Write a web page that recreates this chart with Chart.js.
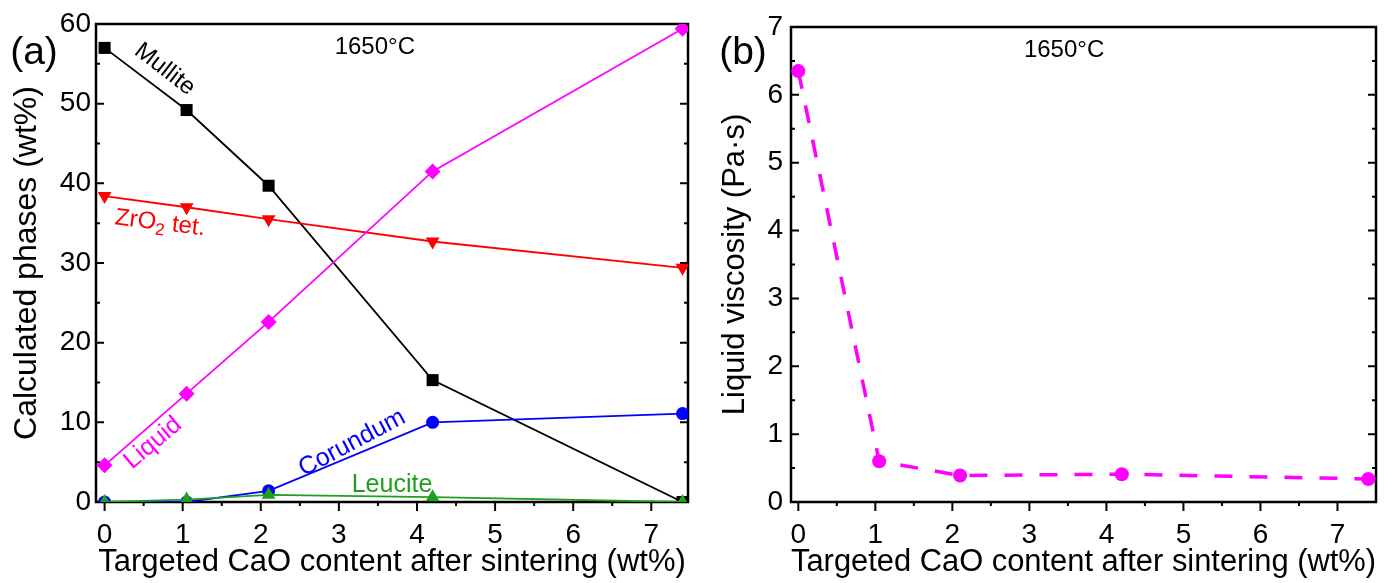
<!DOCTYPE html>
<html>
<head>
<meta charset="utf-8">
<script src="https://cdn.jsdelivr.net/npm/chart.js@4.4.0/dist/chart.umd.min.js"></script>
<style>
  html, body { margin: 0; padding: 0; background: #fff; }
  #wrap { position: relative; width: 1395px; height: 583px; }
  canvas { position: absolute; top: 0; }
  #phases { left: 0; }
  #viscosity { left: 700px; }
</style>
</head>
<body>
<div id="wrap">
  <canvas id="phases" width="700" height="583"></canvas>
  <canvas id="viscosity" width="695" height="583"></canvas>
</div>
<script>
// data
const caoContent = [0, 1.05, 2.1, 4.2, 7.4];
const mullite  = [57.0, 49.2, 39.7, 15.3, 0.0];
const zro2Tet  = [38.4, 37.0, 35.5, 32.7, 29.4];
const liquid   = [4.6, 13.6, 22.6, 41.5, 59.4];
const corundum = [0.0, 0.0, 1.4, 10.0, 11.1];
const leucite  = [0.0, 0.3, 0.9, 0.6, 0.0];
const viscosity = [6.35, 0.6, 0.39, 0.41, 0.34];

const xTicks = [0, 1, 2, 3, 4, 5, 6, 7];
const phaseTicks = [0, 10, 20, 30, 40, 50, 60];
const viscTicks = [0, 1, 2, 3, 4, 5, 6, 7];

const FONT = "'Liberation Sans', Arial, sans-serif";

function pts(ys) {
    return caoContent.map((x, i) => ({ x: x, y: ys[i] }));
}

function halves(list) {
    const out = [];
    for (let i = 0; i < list.length; i++) {
        const step = list.length > 1 ? list[1] - list[0] : 1;
        out.push(list[i] + step / 2);
    }
    return out;
}

// frame + inward/outward tick marks, drawn under the data
function frameTicks(xMajor, yMajor) {
    const xMinor = halves(xMajor);
    const yMinor = halves(yMajor);
    return {
        id: 'frameTicks',
        beforeDatasetsDraw(chart) {
            const { ctx, chartArea: a, scales: { x, y } } = chart;
            ctx.save();
            ctx.strokeStyle = '#000';
            ctx.lineWidth = 2;
            ctx.beginPath();
            xMajor.forEach(v => {
                const px = x.getPixelForValue(v);
                ctx.moveTo(px, a.bottom); ctx.lineTo(px, a.bottom + 9);
            });
            xMinor.forEach(v => {
                if (v >= x.max) return;
                const px = x.getPixelForValue(v);
                ctx.moveTo(px, a.bottom); ctx.lineTo(px, a.bottom + 4);
            });
            yMajor.forEach(v => {
                const py = y.getPixelForValue(v);
                ctx.moveTo(a.left, py); ctx.lineTo(a.left + 8, py);
                ctx.moveTo(a.right, py); ctx.lineTo(a.right - 8, py);
            });
            yMinor.forEach(v => {
                if (v >= y.max) return;
                const py = y.getPixelForValue(v);
                ctx.moveTo(a.left, py); ctx.lineTo(a.left + 4, py);
                ctx.moveTo(a.right, py); ctx.lineTo(a.right - 4, py);
            });
            ctx.stroke();
            ctx.lineWidth = 2.5;
            ctx.strokeRect(a.left, a.top, a.right - a.left, a.bottom - a.top);
            ctx.restore();
        }
    };
}

// text notes placed in data coordinates
function notes(list, panelLabel) {
    return {
        id: 'notes',
        afterDatasetsDraw(chart) {
            const { ctx, scales: { x, y } } = chart;
            ctx.save();
            list.forEach(n => {
                ctx.save();
                ctx.translate(x.getPixelForValue(n.x), y.getPixelForValue(n.y));
                ctx.rotate((n.rot || 0) * Math.PI / 180);
                ctx.fillStyle = n.color;
                ctx.font = n.size + 'px ' + FONT;
                ctx.textBaseline = 'middle';
                if (n.sub) {
                    const w1 = ctx.measureText(n.text).width;
                    ctx.font = Math.round(n.size * 0.7) + 'px ' + FONT;
                    const w2 = ctx.measureText(n.sub).width;
                    ctx.font = n.size + 'px ' + FONT;
                    const w3 = ctx.measureText(n.tail).width;
                    let cx = -(w1 + w2 + w3) / 2;
                    ctx.textAlign = 'left';
                    ctx.fillText(n.text, cx, 0);
                    cx += w1;
                    ctx.font = Math.round(n.size * 0.7) + 'px ' + FONT;
                    ctx.fillText(n.sub, cx, n.size * 0.3);
                    cx += w2;
                    ctx.font = n.size + 'px ' + FONT;
                    ctx.fillText(n.tail, cx, 0);
                } else {
                    ctx.textAlign = 'center';
                    ctx.fillText(n.text, 0, 0);
                }
                ctx.restore();
            });
            ctx.fillStyle = '#000';
            ctx.font = '39px ' + FONT;
            ctx.textAlign = 'center';
            ctx.textBaseline = 'middle';
            ctx.fillText(panelLabel.text, panelLabel.cx, panelLabel.cy);
            ctx.restore();
        }
    };
}

function fixTicks(values) {
    return function(scale) {
        scale.ticks = values.map(v => ({ value: v }));
    };
}

function axes(opt) {
    return {
        x: {
            type: 'linear',
            min: opt.xMin, max: opt.xMax,
            afterBuildTicks: fixTicks(xTicks),
            afterFit: s => { s.height = 81; },
            grid: { display: false, drawTicks: false },
            border: { display: false },
            ticks: { color: '#000', padding: 16, font: { family: FONT, size: 28 }, maxRotation: 0 },
            title: { display: true, text: 'Targeted CaO content after sintering (wt%)', color: '#000',
                     font: { family: FONT, size: 31 }, padding: { top: 0, bottom: 1.5 } }
        },
        y: {
            type: 'linear',
            min: opt.yMin, max: opt.yMax,
            afterBuildTicks: fixTicks(opt.yTicks),
            afterFit: s => { s.width = opt.yWidth; },
            grid: { display: false, drawTicks: false },
            border: { display: false },
            ticks: { color: '#000', padding: opt.yPad, font: { family: FONT, size: 28 } },
            title: { display: true, text: opt.yTitle, color: '#000',
                     font: { family: FONT, size: opt.titleSize }, padding: { top: opt.titlePad, bottom: 0 } }
        }
    };
}

function series(label, ys, color, style, radius, rotation) {
    return {
        label: label,
        data: pts(ys),
        showLine: true,
        borderColor: color,
        backgroundColor: color,
        borderWidth: 1.8,
        pointStyle: style,
        pointRadius: radius,
        pointRotation: rotation || 0,
        pointBorderWidth: 0,
        tension: 0
    };
}

const phaseNotes = [
    { text: '1650°C', x: 3.46, y: 57.1, color: '#000', size: 24 },
    { text: 'Mullite', x: 0.77, y: 54.3, rot: 38, color: '#000', size: 24 },
    { text: 'ZrO', sub: '2', tail: ' tet.', x: 0.71, y: 35.0, rot: 7, color: '#ff0000', size: 24 },
    { text: 'Liquid', x: 0.62, y: 7.4, rot: -40, color: '#ff00ff', size: 25 },
    { text: 'Corundum', x: 3.17, y: 7.4, rot: -28, color: '#0000ff', size: 25 },
    { text: 'Leucite', x: 3.68, y: 2.1, color: '#1ea01e', size: 25 }
];

const viscNotes = [
    { text: '1650°C', x: 3.45, y: 6.66, color: '#000', size: 24 }
];

new Chart(document.getElementById('phases'), {
    type: 'scatter',
    data: {
        datasets: [
            series('Leucite', leucite, '#1ea01e', 'triangle', 8),
            series('Corundum', corundum, '#0000ff', 'circle', 6.5),
            series('Liquid', liquid, '#ff00ff', 'rectRot', 8),
            series('ZrO2 tet.', zro2Tet, '#ff0000', 'triangle', 8, 180),
            series('Mullite', mullite, '#000000', 'rect', 8.5)
        ]
    },
    options: {
        responsive: false,
        animation: false,
        layout: { padding: { left: 0, top: 24, right: 12, bottom: 0 } },
        scales: axes({ xMin: -0.11, xMax: 7.47, yMin: 0, yMax: 60, yTicks: phaseTicks,
                       yWidth: 96, yPad: 5, titlePad: 8, titleSize: 32, yTitle: 'Calculated phases (wt%)' }),
        plugins: { legend: { display: false }, tooltip: { enabled: false } }
    },
    plugins: [frameTicks(xTicks, phaseTicks), notes(phaseNotes, { text: '(a)', cx: 34, cy: 53 })]
});

const viscSet = series('Liquid viscosity', viscosity, '#ff00ff', 'circle', 7);
viscSet.borderWidth = 3.5;
viscSet.borderDash = [18, 17];

new Chart(document.getElementById('viscosity'), {
    type: 'scatter',
    data: { datasets: [viscSet] },
    options: {
        responsive: false,
        animation: false,
        layout: { padding: { left: 0, top: 27, right: 19, bottom: 0 } },
        scales: axes({ xMin: -0.095, xMax: 7.5, yMin: 0, yMax: 7, yTicks: viscTicks,
                       yWidth: 91, yPad: 8, titlePad: 17, titleSize: 31, yTitle: 'Liquid viscosity (Pa·s)' }),
        plugins: { legend: { display: false }, tooltip: { enabled: false } }
    },
    plugins: [frameTicks(xTicks, viscTicks), notes(viscNotes, { text: '(b)', cx: 43, cy: 53 })]
});
</script>
</body>
</html>
